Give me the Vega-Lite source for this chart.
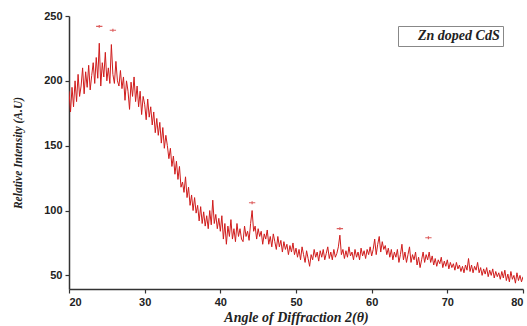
{
  "$schema": "https://vega.github.io/schema/vega-lite/v6.json",
  "width": 454,
  "height": 273,
  "autosize": {"type": "none"},
  "padding": {"left": 69, "top": 16, "right": 4, "bottom": 37},
  "background": "white",
  "config": {
    "view": {"stroke": null},
    "axis": {
      "grid": false,
      "domainColor": "#333",
      "domainWidth": 1.5,
      "tickColor": "#333",
      "tickWidth": 1.2,
      "tickSize": 4,
      "labelFont": "Liberation Sans",
      "labelFontWeight": "bold",
      "labelFontSize": 11,
      "labelColor": "#222",
      "titleFont": "Liberation Serif",
      "titleFontStyle": "italic",
      "titleFontWeight": "bold",
      "titleFontSize": 11,
      "titleColor": "#222"
    }
  },
  "datasets": {
    "xrd": [
      {"a":20.0,"i":192},{"a":20.2,"i":176},{"a":20.4,"i":195},{"a":20.6,"i":180},{"a":20.8,"i":200},
      {"a":21.0,"i":184},{"a":21.2,"i":205},{"a":21.4,"i":188},{"a":21.6,"i":196},{"a":21.8,"i":210},
      {"a":22.0,"i":190},{"a":22.2,"i":207},{"a":22.4,"i":195},{"a":22.6,"i":212},{"a":22.8,"i":193},
      {"a":23.0,"i":204},{"a":23.2,"i":214},{"a":23.4,"i":198},{"a":23.6,"i":218},{"a":23.8,"i":202},
      {"a":24.0,"i":229},{"a":24.2,"i":196},{"a":24.4,"i":214},{"a":24.6,"i":203},{"a":24.8,"i":222},
      {"a":25.0,"i":200},{"a":25.2,"i":210},{"a":25.4,"i":198},{"a":25.6,"i":228},{"a":25.8,"i":205},
      {"a":26.0,"i":198},{"a":26.2,"i":215},{"a":26.4,"i":200},{"a":26.6,"i":196},{"a":26.8,"i":208},
      {"a":27.0,"i":194},{"a":27.2,"i":203},{"a":27.4,"i":185},{"a":27.6,"i":200},{"a":27.8,"i":192},
      {"a":28.0,"i":178},{"a":28.2,"i":199},{"a":28.4,"i":188},{"a":28.6,"i":203},{"a":28.8,"i":184},
      {"a":29.0,"i":196},{"a":29.2,"i":180},{"a":29.4,"i":192},{"a":29.6,"i":174},{"a":29.8,"i":188},
      {"a":30.0,"i":182},{"a":30.2,"i":170},{"a":30.4,"i":186},{"a":30.6,"i":172},{"a":30.8,"i":180},
      {"a":31.0,"i":166},{"a":31.2,"i":176},{"a":31.4,"i":160},{"a":31.6,"i":171},{"a":31.8,"i":158},
      {"a":32.0,"i":168},{"a":32.2,"i":152},{"a":32.4,"i":164},{"a":32.6,"i":148},{"a":32.8,"i":158},
      {"a":33.0,"i":150},{"a":33.2,"i":140},{"a":33.4,"i":148},{"a":33.6,"i":134},{"a":33.8,"i":142},
      {"a":34.0,"i":128},{"a":34.2,"i":138},{"a":34.4,"i":124},{"a":34.6,"i":134},{"a":34.8,"i":118},
      {"a":35.0,"i":122},{"a":35.2,"i":114},{"a":35.4,"i":126},{"a":35.6,"i":110},{"a":35.8,"i":118},
      {"a":36.0,"i":104},{"a":36.2,"i":112},{"a":36.4,"i":100},{"a":36.6,"i":110},{"a":36.8,"i":98},
      {"a":37.0,"i":104},{"a":37.2,"i":92},{"a":37.4,"i":103},{"a":37.6,"i":90},{"a":37.8,"i":99},
      {"a":38.0,"i":88},{"a":38.2,"i":96},{"a":38.4,"i":86},{"a":38.6,"i":100},{"a":38.8,"i":89},
      {"a":39.0,"i":108},{"a":39.2,"i":90},{"a":39.4,"i":97},{"a":39.6,"i":86},{"a":39.8,"i":94},
      {"a":40.0,"i":84},{"a":40.2,"i":96},{"a":40.4,"i":78},{"a":40.6,"i":90},{"a":40.8,"i":74},
      {"a":41.0,"i":88},{"a":41.2,"i":80},{"a":41.4,"i":93},{"a":41.6,"i":78},{"a":41.8,"i":86},
      {"a":42.0,"i":76},{"a":42.2,"i":90},{"a":42.4,"i":80},{"a":42.6,"i":86},{"a":42.8,"i":78},
      {"a":43.0,"i":76},{"a":43.2,"i":88},{"a":43.4,"i":80},{"a":43.6,"i":84},{"a":43.8,"i":77},
      {"a":44.0,"i":90},{"a":44.2,"i":100},{"a":44.4,"i":84},{"a":44.6,"i":88},{"a":44.8,"i":78},
      {"a":45.0,"i":86},{"a":45.2,"i":80},{"a":45.4,"i":84},{"a":45.6,"i":74},{"a":45.8,"i":82},
      {"a":46.0,"i":78},{"a":46.2,"i":85},{"a":46.4,"i":74},{"a":46.6,"i":80},{"a":46.8,"i":72},
      {"a":47.0,"i":82},{"a":47.2,"i":76},{"a":47.4,"i":70},{"a":47.6,"i":80},{"a":47.8,"i":72},
      {"a":48.0,"i":77},{"a":48.2,"i":68},{"a":48.4,"i":76},{"a":48.6,"i":70},{"a":48.8,"i":74},
      {"a":49.0,"i":66},{"a":49.2,"i":73},{"a":49.4,"i":68},{"a":49.6,"i":75},{"a":49.8,"i":66},
      {"a":50.0,"i":71},{"a":50.2,"i":64},{"a":50.4,"i":70},{"a":50.6,"i":62},{"a":50.8,"i":72},
      {"a":51.0,"i":66},{"a":51.2,"i":60},{"a":51.4,"i":69},{"a":51.6,"i":63},{"a":51.8,"i":57},
      {"a":52.0,"i":66},{"a":52.2,"i":62},{"a":52.4,"i":70},{"a":52.6,"i":64},{"a":52.8,"i":68},
      {"a":53.0,"i":61},{"a":53.2,"i":69},{"a":53.4,"i":64},{"a":53.6,"i":70},{"a":53.8,"i":62},
      {"a":54.0,"i":67},{"a":54.2,"i":72},{"a":54.4,"i":63},{"a":54.6,"i":68},{"a":54.8,"i":62},
      {"a":55.0,"i":70},{"a":55.2,"i":64},{"a":55.4,"i":67},{"a":55.6,"i":72},{"a":55.8,"i":81},
      {"a":56.0,"i":66},{"a":56.2,"i":70},{"a":56.4,"i":63},{"a":56.6,"i":69},{"a":56.8,"i":64},
      {"a":57.0,"i":72},{"a":57.2,"i":65},{"a":57.4,"i":68},{"a":57.6,"i":62},{"a":57.8,"i":70},
      {"a":58.0,"i":64},{"a":58.2,"i":68},{"a":58.4,"i":62},{"a":58.6,"i":71},{"a":58.8,"i":65},
      {"a":59.0,"i":69},{"a":59.2,"i":63},{"a":59.4,"i":70},{"a":59.6,"i":66},{"a":59.8,"i":72},
      {"a":60.0,"i":65},{"a":60.2,"i":70},{"a":60.4,"i":78},{"a":60.6,"i":66},{"a":60.8,"i":74},
      {"a":61.0,"i":80},{"a":61.2,"i":68},{"a":61.4,"i":76},{"a":61.6,"i":70},{"a":61.8,"i":73},
      {"a":62.0,"i":66},{"a":62.2,"i":71},{"a":62.4,"i":64},{"a":62.6,"i":70},{"a":62.8,"i":62},
      {"a":63.0,"i":68},{"a":63.2,"i":64},{"a":63.4,"i":70},{"a":63.6,"i":60},{"a":63.8,"i":66},
      {"a":64.0,"i":74},{"a":64.2,"i":62},{"a":64.4,"i":68},{"a":64.6,"i":60},{"a":64.8,"i":66},
      {"a":65.0,"i":72},{"a":65.2,"i":60},{"a":65.4,"i":66},{"a":65.6,"i":62},{"a":65.8,"i":68},
      {"a":66.0,"i":58},{"a":66.2,"i":64},{"a":66.4,"i":56},{"a":66.6,"i":62},{"a":66.8,"i":68},
      {"a":67.0,"i":60},{"a":67.2,"i":66},{"a":67.4,"i":62},{"a":67.6,"i":68},{"a":67.8,"i":60},
      {"a":68.0,"i":65},{"a":68.2,"i":58},{"a":68.4,"i":63},{"a":68.6,"i":57},{"a":68.8,"i":62},
      {"a":69.0,"i":59},{"a":69.2,"i":64},{"a":69.4,"i":56},{"a":69.6,"i":61},{"a":69.8,"i":57},
      {"a":70.0,"i":62},{"a":70.2,"i":55},{"a":70.4,"i":60},{"a":70.6,"i":56},{"a":70.8,"i":59},
      {"a":71.0,"i":54},{"a":71.2,"i":60},{"a":71.4,"i":55},{"a":71.6,"i":58},{"a":71.8,"i":53},
      {"a":72.0,"i":57},{"a":72.2,"i":52},{"a":72.4,"i":58},{"a":72.6,"i":54},{"a":72.8,"i":63},
      {"a":73.0,"i":53},{"a":73.2,"i":58},{"a":73.4,"i":52},{"a":73.6,"i":57},{"a":73.8,"i":54},
      {"a":74.0,"i":60},{"a":74.2,"i":52},{"a":74.4,"i":56},{"a":74.6,"i":50},{"a":74.8,"i":55},
      {"a":75.0,"i":51},{"a":75.2,"i":56},{"a":75.4,"i":49},{"a":75.6,"i":54},{"a":75.8,"i":50},
      {"a":76.0,"i":55},{"a":76.2,"i":48},{"a":76.4,"i":53},{"a":76.6,"i":49},{"a":76.8,"i":52},
      {"a":77.0,"i":47},{"a":77.2,"i":53},{"a":77.4,"i":48},{"a":77.6,"i":54},{"a":77.8,"i":46},
      {"a":78.0,"i":51},{"a":78.2,"i":45},{"a":78.4,"i":53},{"a":78.6,"i":47},{"a":78.8,"i":50},
      {"a":79.0,"i":44},{"a":79.2,"i":52},{"a":79.4,"i":46},{"a":79.6,"i":50},{"a":79.8,"i":45},
      {"a":80.0,"i":49}
    ],
    "peaks": [
      {"a":24.0,"i":242},{"a":25.8,"i":239},{"a":44.2,"i":106},{"a":55.8,"i":86},{"a":67.5,"i":79}
    ]
  },
  "layer": [
    {
      "data": {"name": "xrd"},
      "mark": {"type": "line", "color": "#d01c1c", "strokeWidth": 1, "clip": true},
      "encoding": {
        "x": {
          "field": "a", "type": "quantitative",
          "scale": {"domain": [20, 80], "nice": false, "zero": false},
          "axis": {
            "title": "Angle of Diffraction 2(θ)",
            "titleFontSize": 14,
            "values": [20,25,30,35,40,45,50,55,60,65,70,75,80],
            "labelExpr": "datum.value % 10 == 0 ? datum.label : ''",
            "titlePadding": 3,
            "labelPadding": 3
          }
        },
        "y": {
          "field": "i", "type": "quantitative",
          "scale": {"domain": [39.5, 250], "nice": false, "zero": false},
          "axis": {
            "title": "Relative Intensity (A.U)",
            "titleFontSize": 11.5,
            "values": [50,75,100,125,150,175,200,225,250],
            "labelExpr": "datum.value % 50 == 0 ? datum.label : ''",
            "titlePadding": 20,
            "labelPadding": 3
          }
        },
        "color": {
          "datum": "Zn doped CdS",
          "scale": {"range": ["#d01c1c"]},
          "legend": {
            "title": null,
            "orient": "none",
            "legendX": 329,
            "legendY": 10,
            "fillColor": "white",
            "strokeColor": "#888",
            "padding": 3,
            "symbolOpacity": 0,
            "symbolStrokeWidth": 0,
            "symbolSize": 36,
            "labelOffset": 3,
            "labelFont": "Liberation Serif",
            "labelFontStyle": "italic",
            "labelFontWeight": "bold",
            "labelFontSize": 14,
            "labelColor": "#222"
          }
        }
      }
    },
    {
      "data": {"name": "peaks"},
      "mark": {"type": "point", "shape": "M-1,0H1M0,-0.45V0.45", "filled": false, "color": "#d01c1c", "strokeWidth": 1.2, "size": 40},
      "encoding": {
        "x": {"field": "a", "type": "quantitative"},
        "y": {"field": "i", "type": "quantitative"}
      }
    }
  ]
}
